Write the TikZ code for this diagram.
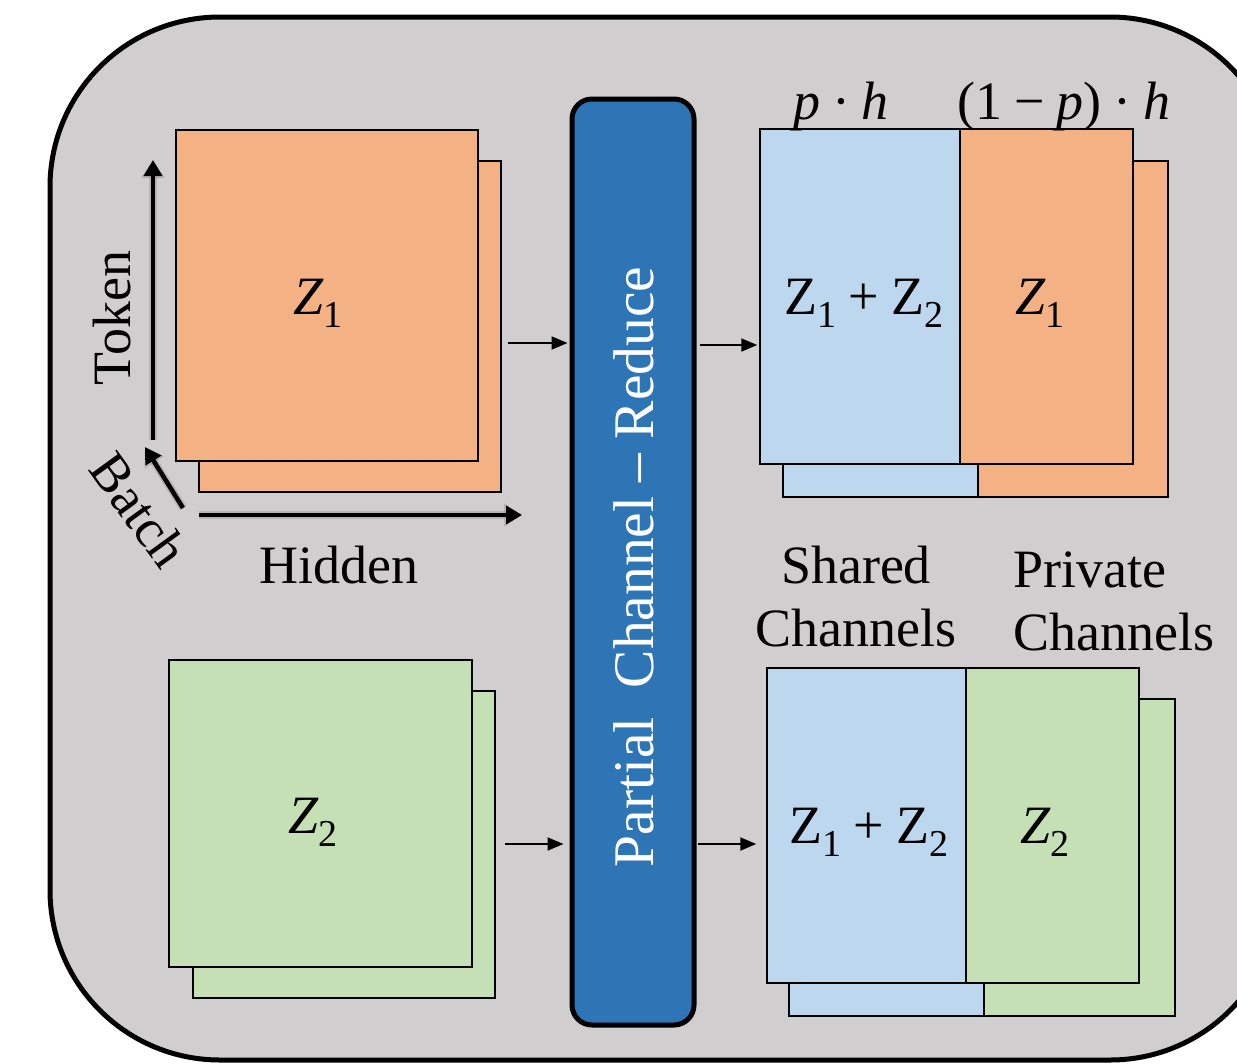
\documentclass[tikz,border=0pt]{standalone}
\usepackage{fontspec}
\setmainfont{Liberation Serif}
\usetikzlibrary{arrows.meta,calc}

\definecolor{panel}{HTML}{D0CECF}
\definecolor{barblue}{HTML}{2E75B6}
\definecolor{peach}{HTML}{F4B183}
\definecolor{mint}{HTML}{C5E0B4}
\definecolor{sky}{HTML}{BDD7EE}

% lowered index in text mode
\newcommand\lo[1]{\raisebox{-0.24em}{\fontsize{38}{38}\selectfont #1}}
\newcommand\opsp{\hspace{0.22em}}

\tikzset{
  blk/.style={draw, line width=1.5pt, inner sep=0pt},
  big/.style={font=\fontsize{54}{63}\selectfont, inner sep=0pt},
  flow/.style={-{Triangle[length=16pt,width=13pt]}, line width=2pt},
  axis/.style={-{Triangle[length=16pt,width=18pt]}, line width=4.5pt},
  axshadow/.style={-{Triangle[length=18pt,width=22pt]}, line width=8pt,
    draw=black, opacity=0.12, shift={(2.5,2.5)}},
}

\begin{document}
\begin{tikzpicture}[x=1pt,y=-1pt]
\useasboundingbox (0,0) rectangle (1237,1063);

% background panel
\draw[line width=5pt, fill=panel, rounded corners=170pt] (50,17) rectangle (1280,1060);

% reduction bar
\node[draw, line width=5pt, fill=barblue, rounded corners=20pt,
      minimum width=122pt, minimum height=926pt, inner sep=0pt] (bar) at (633,562) {};
\node[big, text=white, rotate=90, font=\fontsize{57.5}{63}\selectfont] (bartxt) at (634,567)
  {Partial\ \ Channel – Reduce};

% input Z1
\node[blk, fill=peach, minimum width=302pt, minimum height=331pt] (z1b) at (350,326.5) {};
\node[blk, fill=peach, minimum width=302pt, minimum height=331pt] (z1f) at (327,295.5) {};
\node[big] (z1lbl) at (318,303) {\textit{Z}\lo{1}};

% input Z2
\node[blk, fill=mint, minimum width=302pt, minimum height=307pt] (z2b) at (344,844.5) {};
\node[blk, fill=mint, minimum width=303pt, minimum height=307pt] (z2f) at (320.5,813.5) {};
\node[big] (z2lbl) at (313,822) {\textit{Z}\lo{2}};

% axes with a soft shadow
\coordinate (o1) at (153,440);
\coordinate (t1) at (153,160);
\coordinate (o2) at (183,508);
\coordinate (t2) at (145,447);
\coordinate (o3) at (199,515);
\coordinate (t3) at (522,515);
\foreach \a/\b in {o1/t1,o2/t2,o3/t3}{
  \draw[axshadow] (\a) -- (\b);
  \draw[axis] (\a) -- (\b);
}
\node[big, rotate=90] (token) at (112,318) {Token};
\node[big, rotate=-54] (batch) at (139,510) {Batch};
\node[big, anchor=base] (hidden) at (339,583) {Hidden};

% output 1
\node[blk, fill=sky, minimum width=195pt, minimum height=336pt] (o1sb) at (880.5,329) {};
\node[blk, fill=peach, minimum width=190pt, minimum height=336pt] (o1pb) at (1073,329) {};
\node[blk, fill=sky, minimum width=200pt, minimum height=335pt] (o1s) at (860,296.5) {};
\node[blk, fill=peach, minimum width=173pt, minimum height=335pt] (o1p) at (1046.5,296.5) {};
\node[big] (o1slbl) at (864,303) {Z\lo{1}\opsp+\opsp Z\lo{2}};
\node[big] (o1plbl) at (1040,303) {\textit{Z}\lo{1}};
\node[big, anchor=base] (ph) at (841,119) {\textit{p}\opsp·\opsp\textit{h}};
\node[big, anchor=base] (qh) at (1064,119) {(1\opsp−\opsp\textit{p})\opsp·\opsp\textit{h}};

% output 2
\node[blk, fill=sky, minimum width=195pt, minimum height=317pt] (o2sb) at (886.5,857.5) {};
\node[blk, fill=mint, minimum width=191pt, minimum height=317pt] (o2pb) at (1079.5,857.5) {};
\node[blk, fill=sky, minimum width=199pt, minimum height=315pt] (o2s) at (866.5,825.5) {};
\node[blk, fill=mint, minimum width=173pt, minimum height=315pt] (o2p) at (1052.5,825.5) {};
\node[big] (o2slbl) at (869,832) {Z\lo{1}\opsp+\opsp Z\lo{2}};
\node[big] (o2plbl) at (1045,832) {\textit{Z}\lo{2}};

% channel captions
\node[big, align=center] (shared) at (856,597) {Shared\\Channels};
\node[big, align=left, anchor=west] (private) at (1013,601) {Private\\Channels};

% data flow
\coordinate (r1) at (0,343);
\coordinate (r2) at (0,345);
\coordinate (r3) at (0,844);
\draw[flow, shorten <=6pt, shorten >=2pt] (z1b.east |- r1) -- (bar.west |- r1);
\draw[flow, shorten <=3pt, shorten >=2pt] (bar.east |- r2) -- (o1s.west |- r2);
\draw[flow, shorten <=9pt, shorten >=6pt] (z2b.east |- r3) -- (bar.west |- r3);
\draw[flow, shorten <=1pt, shorten >=10pt] (bar.east |- r3) -- (o2s.west |- r3);
\end{tikzpicture}
\end{document}
